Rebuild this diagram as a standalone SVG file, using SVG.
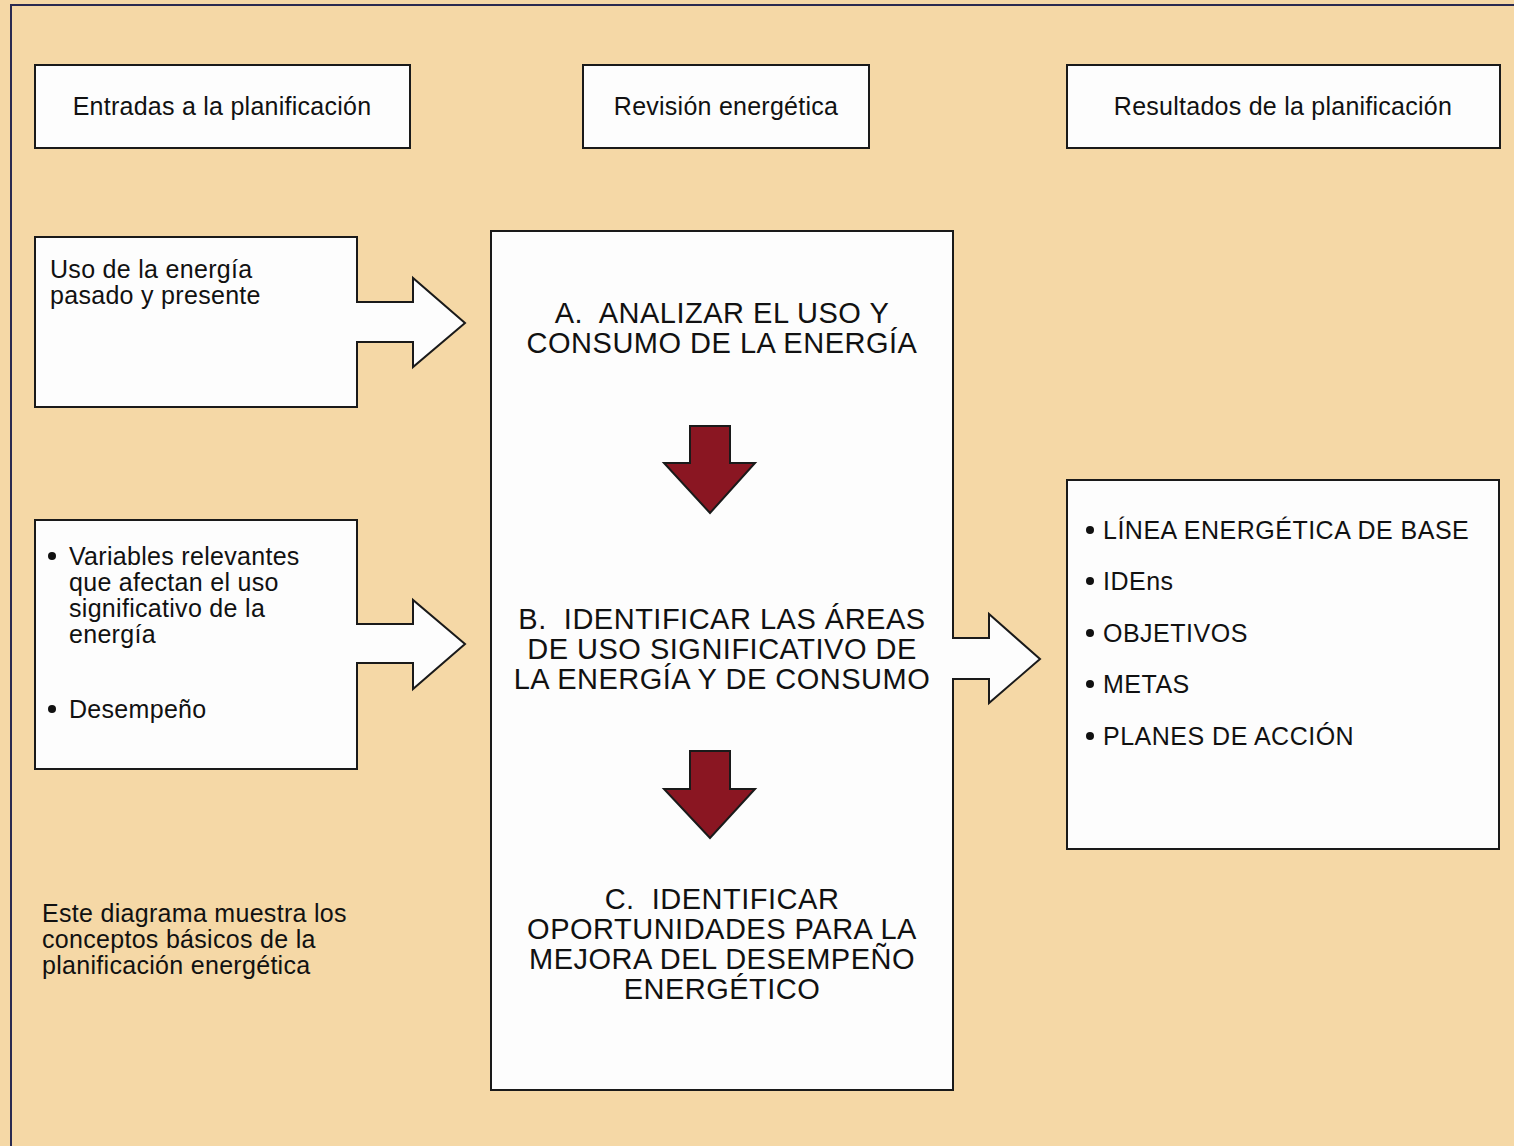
<svg xmlns="http://www.w3.org/2000/svg" width="1514" height="1146" viewBox="0 0 1514 1146">
<style>
.box{fill:#fdfdfd;stroke:#1a1a1a;stroke-width:2}
.t{font-family:"Liberation Sans",Arial,sans-serif;fill:#111}
.h{font-size:25px;letter-spacing:0.25px;text-anchor:middle}
.s{font-size:25px;letter-spacing:0.3px}
.c{font-size:29px;letter-spacing:0.5px;text-anchor:middle}
.r{font-size:25px;letter-spacing:0.5px}
.red{fill:#8a1622;stroke:#1a1a1a;stroke-width:2}
</style>
<rect x="0" y="0" width="1514" height="1146" fill="#f5d8a6"/>
<path d="M11,1146 V5 H1514" fill="none" stroke="#2a2a50" stroke-width="2"/>
<g id="hdr-entradas"><rect class="box" x="35" y="65" width="375" height="83"/><text class="t h" x="222" y="115">Entradas a la planificación</text></g>
<g id="hdr-revision"><rect class="box" x="583" y="65" width="286" height="83"/><text class="t h" x="726" y="115">Revisión energética</text></g>
<g id="hdr-resultados"><rect class="box" x="1067" y="65" width="433" height="83"/><text class="t h" x="1283" y="115">Resultados de la planificación</text></g>
<g id="in1"><path class="box" d="M35,237 H357 V302 H413 V278 L465,323 L413,367 V342 H357 V407 H35 Z"/>
<text class="t s" x="50" y="278">Uso de la energía</text><text class="t s" x="50" y="304">pasado y presente</text></g>
<g id="in2"><path class="box" d="M35,520 H357 V624 H413 V600 L465,644 L413,689 V663 H357 V769 H35 Z"/>
<circle cx="52" cy="556" r="4" fill="#111"/>
<text class="t s" x="69" y="565">Variables relevantes</text><text class="t s" x="69" y="591">que afectan el uso</text><text class="t s" x="69" y="617">significativo de la</text><text class="t s" x="69" y="643">energía</text>
<circle cx="52" cy="709" r="4" fill="#111"/>
<text class="t s" x="69" y="718">Desempeño</text></g>
<g id="center"><path class="box" d="M491,231 H953 V638 H989 V614 L1040,659 L989,703 V679 H953 V1090 H491 Z"/>
<g class="t c">
<text x="722" y="323">A.&#160; ANALIZAR EL USO Y</text><text x="722" y="353">CONSUMO DE LA ENERGÍA</text>
<text x="722" y="629">B.&#160; IDENTIFICAR LAS ÁREAS</text><text x="722" y="659">DE USO SIGNIFICATIVO DE</text><text x="722" y="689">LA ENERGÍA Y DE CONSUMO</text>
<text x="722" y="909">C.&#160; IDENTIFICAR</text><text x="722" y="939">OPORTUNIDADES PARA LA</text><text x="722" y="969">MEJORA DEL DESEMPEÑO</text><text x="722" y="999">ENERGÉTICO</text>
</g></g>
<g id="results"><rect class="box" x="1067" y="480" width="432" height="369"/>
<g class="t r">
<circle cx="1090" cy="530" r="4"/><text x="1103" y="539">LÍNEA ENERGÉTICA DE BASE</text>
<circle cx="1090" cy="581" r="4"/><text x="1103" y="590">IDEns</text>
<circle cx="1090" cy="633" r="4"/><text x="1103" y="642">OBJETIVOS</text>
<circle cx="1090" cy="684" r="4"/><text x="1103" y="693">METAS</text>
<circle cx="1090" cy="736" r="4"/><text x="1103" y="745">PLANES DE ACCIÓN</text>
</g></g>
<g id="note"><text class="t s" x="42" y="922">Este diagrama muestra los</text><text class="t s" x="42" y="948">conceptos básicos de la</text><text class="t s" x="42" y="974">planificación energética</text></g>
<g id="connectors">
<path class="red" d="M690,426 H730 V463 H755 L710,513 L664,463 H690 Z"/>
<path class="red" d="M690,751 H730 V789 H755 L710,838 L664,789 H690 Z"/>
</g>
</svg>
